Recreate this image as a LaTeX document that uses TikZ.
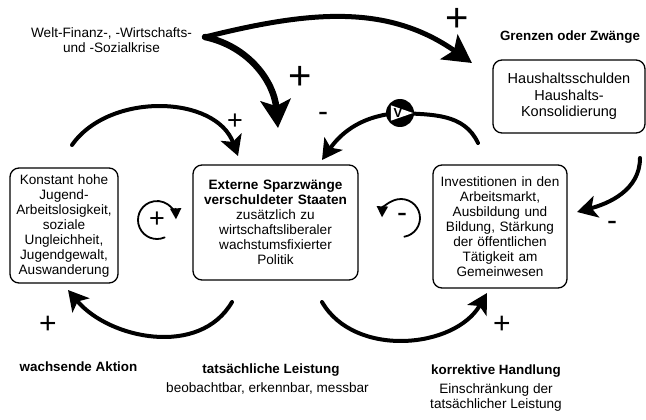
\documentclass[tikz,border=0pt]{standalone}
\usepackage{fontspec}
\setmainfont{Liberation Sans}
\usetikzlibrary{arrows.meta}

\begin{document}
\begin{tikzpicture}[x=1pt,y=1pt,line cap=round,
  font=\fontsize{13.6}{15}\selectfont,
  box/.style={draw,line width=1.3pt,rounded corners=9pt,align=center,inner sep=0pt},
  heading/.style={font=\fontsize{13.4}{15}\selectfont\bfseries},
  loopline/.style={line width=4pt,-{Stealth[length=20pt,width=22pt,inset=5pt]}},
  crisis/.style={-{Stealth[length=28pt,width=30pt,inset=6pt]}},
  ring/.style={line width=1.8pt,-{Triangle[length=11pt,width=11pt]}},
  bigsign/.style={font=\fontsize{40}{40}\selectfont},
  sign/.style={font=\fontsize{30}{30}\selectfont},
  smallsign/.style={font=\fontsize{27}{27}\selectfont}]
\useasboundingbox (0,0) rectangle (646,-420);
\node[align=center] (krise) at (111.5,-40.5) {Welt-Finanz-, -Wirtschafts-\\und -Sozialkrise};
\node[heading] (grenzen) at (570,-37) {Grenzen oder Zwänge};
\node[box,text width=152pt,minimum height=73pt,font=\fontsize{14.5}{16.5}\selectfont] (haushalt) at (569,-96.5) {Haushaltsschulden\\Haushalts-\\Konsolidierung};
\node[box,text width=108pt,minimum height=115pt] (jugend) at (64,-225.5) {Konstant hohe\\Jugend-\\Arbeitslosigkeit,\\soziale\\Ungleichheit,\\Jugendgewalt,\\Auswanderung};
\node[box,text width=165pt,minimum height=115pt] (sparzwang) at (275.5,-222.5) {\textbf{Externe Sparzwänge}\\\textbf{verschuldeter Staaten}\\zusätzlich zu\\wirtschaftsliberaler\\wachstumsfixierter\\Politik};
\node[box,text width=134pt,minimum height=123pt] (invest) at (500,-226.5) {Investitionen in den\\Arbeitsmarkt,\\Ausbildung und\\Bildung, Stärkung\\der öffentlichen\\Tätigkeit am\\Gemeinwesen};
\node[heading] (aktion) at (78.5,-367) {wachsende Aktion};
\node[heading] (leistung) at (271,-370) {tatsächliche Leistung};
\node (messbar) at (267.5,-388) {beobachtbar, erkennbar, messbar};
\node[heading] (handlung) at (496,-371) {korrektive Handlung};
\node[align=center] (einschr) at (496,-397.5) {Einschränkung der\\tatsächlicher Leistung};
\coordinate (split) at (205,-37);
\coordinate (grenzpfeil) at (472,-63);
\coordinate (sparpfeil) at (278,-128);
\draw[crisis,line width=5pt] (split) to[out=14,in=145] (grenzpfeil);
\draw[crisis,line width=6.5pt] (split) to[out=-12,in=95] (sparpfeil);
\node[bigsign] (plusa) at (457,-20) {+};
\node[bigsign] (plusb) at (300,-78) {+};
\coordinate (haushaltab) at (640,-158);
\coordinate (investan) at (577,-212);
\draw[loopline] (haushaltab) to[out=-90,in=15] (investan);
\node[sign] (minusa) at (612,-226) {-};
\coordinate (jugendab) at (72,-145);
\coordinate (sparan) at (238,-156);
\draw[loopline] (jugendab) to[out=55,in=110] (sparan);
\node[smallsign] (plusc) at (235,-122) {+};
\coordinate (investab) at (478,-143);
\coordinate (ventil) at (400,-113);
\coordinate (sparanb) at (322,-160);
\draw[loopline] (investab) to[out=115,in=-3] (ventil) to[out=183,in=55] (sparanb);
\node[sign] (minusb) at (323,-117) {-};
\fill (ventil) circle (14);
\fill[white] ([shift={(140:12)}]ventil) -- ([shift={(220:12)}]ventil) -- ([shift={(0:13)}]ventil) -- cycle;
\node[font=\fontsize{13}{13}\selectfont\bfseries] (ventiltext) at ([xshift=-2]ventil) {V};
\coordinate (sparab) at (232,-302);
\coordinate (jugendan) at (68,-290);
\draw[loopline] (sparab) to[out=-120,in=-50] (jugendan);
\node[sign] (plusd) at (48,-325) {+};
\coordinate (sparabb) at (322,-302);
\coordinate (investanb) at (487,-293);
\draw[loopline] (sparabb) to[out=-60,in=-120] (investanb);
\node[sign] (pluse) at (502,-325) {+};
\draw[ring] (157,-220) ++(-66:19) arc[start angle=-66,end angle=-358,radius=19];
\node[smallsign] (ringplus) at (157,-220) {+};
\draw[ring] (401,-218) ++(-80:19) arc[start angle=-80,end angle=178,radius=19];
\node[sign] (ringminus) at (402,-218) {-};
\end{tikzpicture}
\end{document}
